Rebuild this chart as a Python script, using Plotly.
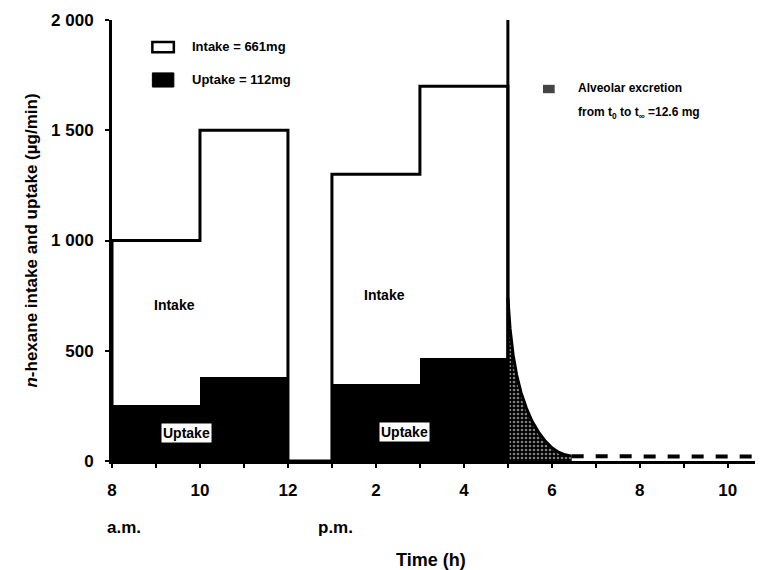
import plotly.graph_objects as go

# ---- data (hours on a 24h clock; 13 = 1 p.m.) ----
intake_t = [8, 8, 10, 12, 13, 15, 17, 17]
intake_v = [0, 1000, 1500, 0, 1300, 1700, 0, 0]
uptake_start = [8, 10, 13, 15]
uptake_end = [10, 12, 15, 17]
uptake_v = [255, 380, 350, 465]
exc_t = [17, 17.05, 17.12, 17.2, 17.3, 17.42, 17.55, 17.7, 17.85, 18.0, 18.15, 18.3, 18.45]
exc_v = [740, 600, 480, 390, 310, 240, 180, 130, 90, 60, 40, 28, 22]
base_t = [18.45, 19.5, 20.5, 21.5, 22.85]
base_v = [22, 20, 20, 20, 20]
sep_t = [17, 17]
sep_v = [0, 2000]
tick_vals = [8, 10, 12, 14, 16, 18, 20, 22]
tick_text = ["8", "10", "12", "2", "4", "6", "8", "10"]
ytick_vals = [0, 500, 1000, 1500, 2000]
ytick_text = ["0", "500", "1 000", "1 500", "2 000"]

FONT = "Liberation Sans, Arial, sans-serif"

fig = go.Figure()

# uptake bars (black)
fig.add_trace(go.Bar(
    x=[(a + b) / 2 for a, b in zip(uptake_start, uptake_end)],
    y=uptake_v,
    width=[b - a for a, b in zip(uptake_start, uptake_end)],
    marker=dict(color="black", line=dict(width=0)),
    showlegend=False, hoverinfo="skip"))

# alveolar excretion (dotted fill)
fig.add_trace(go.Scatter(
    x=exc_t, y=exc_v, mode="lines", fill="tozeroy",
    line=dict(color="black", width=3),
    fillpattern=dict(shape=".", fgcolor="white", bgcolor="black", size=4, solidity=0.35),
    showlegend=False, hoverinfo="skip"))

# baseline after excretion
fig.add_trace(go.Scatter(
    x=base_t, y=base_v, mode="lines",
    line=dict(color="black", width=4, dash="dash"),
    showlegend=False, hoverinfo="skip"))

# intake outline
fig.add_trace(go.Scatter(
    x=intake_t, y=intake_v, mode="lines", line_shape="hv",
    line=dict(color="black", width=3),
    showlegend=False, hoverinfo="skip"))

# separator at end of exposure
fig.add_trace(go.Scatter(
    x=sep_t, y=sep_v, mode="lines",
    line=dict(color="black", width=3),
    showlegend=False, hoverinfo="skip"))

annotations = []
def txt(x, y, s, size=12, xref="x", yref="y", xanchor="center", bg=None, yshift=0):
    d = dict(x=x, y=y, xref=xref, yref=yref, text=s, showarrow=False,
             xanchor=xanchor, yanchor="middle", yshift=yshift,
             font=dict(family=FONT, size=size, color="black", weight="bold"))
    if bg:
        d["bgcolor"] = bg
        d["borderpad"] = 1
    annotations.append(d)

txt(9.43, 709, "Intake", 14)
txt(14.2, 754, "Intake", 14)
txt(9.7, 127, "Uptake", 14, bg="white")
txt(14.65, 131, "Uptake", 14, bg="white")

# legend texts
txt(0.120, 0.941, "Intake = 661mg", 13, xref="paper", yref="paper", xanchor="left")
txt(0.120, 0.864, "Uptake = 112mg", 13, xref="paper", yref="paper", xanchor="left")
txt(0.713, 0.845, "Alveolar excretion", 12, xref="paper", yref="paper", xanchor="left")
txt(0.713, 0.789, "from t<sub>0</sub> to t<sub>\u221e</sub> =12.6 mg", 12, xref="paper", yref="paper", xanchor="left")

# x-axis extra labels
txt(8.27, 0, "a.m.", 17, yref="paper", yshift=-66)
txt(13.07, 0, "p.m.", 17, yref="paper", yshift=-66)
txt(15.25, 0, "Time (h)", 18, yref="paper", yshift=-99)

shapes = [
    dict(type="rect", xref="paper", yref="paper", x0=0.062, x1=0.095, y0=0.927, y1=0.950,
         line=dict(color="black", width=2.5), fillcolor="white"),
    dict(type="rect", xref="paper", yref="paper", x0=0.062, x1=0.095, y0=0.848, y1=0.880,
         line=dict(color="black", width=1), fillcolor="black"),
    dict(type="rect", xref="paper", yref="paper", x0=0.662, x1=0.680, y0=0.834, y1=0.853,
         line=dict(width=0), fillcolor="#444444"),
]

# page body has an 8px margin, so the figure is sized to fit the 763x570 window
fig.update_layout(
    width=755, height=562,
    margin=dict(l=104, r=0, t=12, b=109),
    paper_bgcolor="white", plot_bgcolor="white",
    barmode="overlay", bargap=0,
    font=dict(family=FONT, color="black"),
    annotations=annotations, shapes=shapes,
    xaxis=dict(range=[8, 22.8], tickvals=tick_vals, ticktext=tick_text, automargin=False,
               ticks="outside", ticklen=4, tickwidth=2, tickcolor="black", ticklabelstandoff=8,
               minor=dict(dtick=1, ticks="outside", ticklen=4, tickwidth=2, tickcolor="black", showgrid=False),
               showline=True, linecolor="black", linewidth=3,
               showgrid=False, zeroline=False,
               tickfont=dict(family=FONT, size=17, color="black", weight="bold")),
    yaxis=dict(range=[0, 2000], tickvals=ytick_vals, ticktext=ytick_text, automargin=False,
               ticks="outside", ticklen=4, tickwidth=2, tickcolor="black", ticklabelstandoff=8,
               showline=True, linecolor="black", linewidth=3,
               showgrid=False, zeroline=False,
               tickfont=dict(family=FONT, size=17, color="black", weight="bold"),
               title=dict(text="<i>n</i>-hexane intake and uptake (\u00b5g/min)",
                          font=dict(family=FONT, size=17, color="black", weight="bold"),
                          standoff=10)),
)

fig.write_html("out.html")
